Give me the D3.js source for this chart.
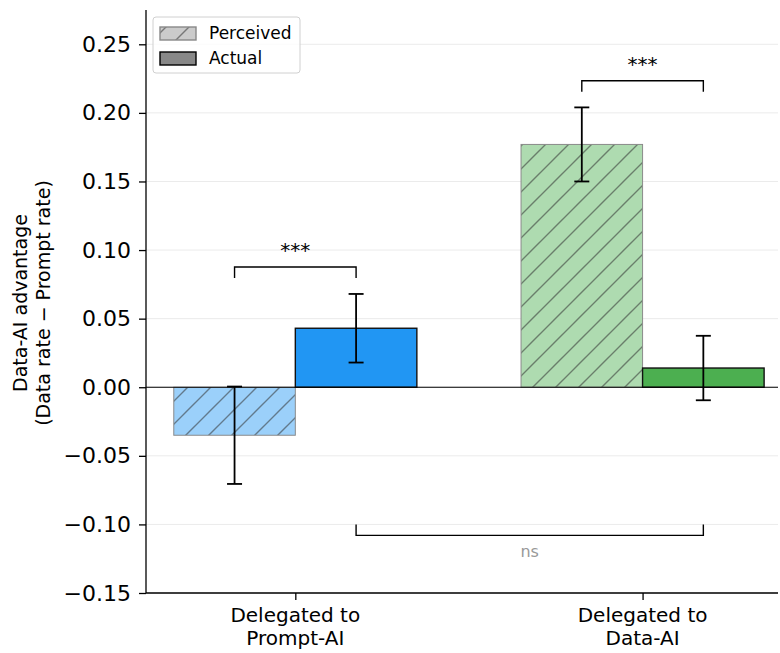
<!DOCTYPE html>
<html>
<head>
<meta charset="utf-8">
<script src="https://cdn.jsdelivr.net/npm/d3@7"></script>
<style>
  body { margin: 0; background: #fff; }
  text { font-family: "DejaVu Sans", sans-serif; }
</style>
</head>
<body>
<div id="chart"></div>
<script>
// 데이터
const groups = ["Delegated to\nPrompt-AI", "Delegated to\nData-AI"];
const perceived = [-0.035, 0.177];
const perceivedErr = [0.0355, 0.027];
const actual = [0.043, 0.014];
const actualErr = [0.025, 0.0235];
const yTicks = [-0.15, -0.10, -0.05, 0.00, 0.05, 0.10, 0.15, 0.20, 0.25];
const seriesNames = ["Perceived", "Actual"];
// 유의성 표시: a, b = [group, series]
const sigs = [
  { a: [0, 0], b: [0, 1], y: 0.0876, drop: -0.008, label: "***" },
  { a: [1, 0], b: [1, 1], y: 0.2234, drop: -0.008, label: "***" },
  { a: [0, 1], b: [1, 1], y: -0.108, drop: 0.008, label: "ns" }
];

// SVG 설정
var W = 780, H = 653;
var svg = d3.select("#chart").append("svg")
  .attr("width", W).attr("height", H);

var xScale = d3.scaleLinear().domain([-0.43, 1.39]).range([146, 778]);
var yScale = d3.scaleLinear().domain([-0.15, 0.275]).range([593, 10]);
var barW = 0.35;
var blue = "#2196F3", green = "#4CAF50";
var colors = [blue, green];

function lighten(c, a) {
  var r = d3.rgb(c);
  return d3.rgb(255 - (255 - r.r) * a, 255 - (255 - r.g) * a, 255 - (255 - r.b) * a).formatHex();
}
function barX(g, s) { return g + (s === 0 ? -barW / 2 : barW / 2); }

// 해치 패턴
var defs = svg.append("defs");
function hatch(id, bg) {
  var p = defs.append("pattern").attr("id", id)
    .attr("patternUnits", "userSpaceOnUse")
    .attr("width", 23).attr("height", 23);
  p.append("rect").attr("width", 23).attr("height", 23).attr("fill", bg);
  p.append("path").attr("d", "M-1,1 l2,-2 M0,23 l23,-23 M22,24 l2,-2")
    .attr("stroke", "#333").attr("stroke-opacity", 0.55).attr("stroke-width", 1.4);
}
hatch("hatch0", lighten(blue, 0.45));
hatch("hatch1", lighten(green, 0.45));
hatch("hatchLegend", "#cbcbcb");

// 그리드
svg.append("g").selectAll("line").data(yTicks).enter().append("line")
  .attr("x1", 146).attr("x2", 778)
  .attr("y1", d => yScale(d)).attr("y2", d => yScale(d))
  .attr("stroke", "#ebebeb").attr("stroke-width", 1);

// 막대
var bars = [];
groups.forEach(function(g, i) {
  bars.push({ g: i, s: 0, v: perceived[i], e: perceivedErr[i] });
  bars.push({ g: i, s: 1, v: actual[i], e: actualErr[i] });
});

svg.append("g").selectAll("rect").data(bars).enter().append("rect")
  .attr("x", d => xScale(barX(d.g, d.s) - barW / 2))
  .attr("width", d => xScale(barW) - xScale(0))
  .attr("y", d => yScale(Math.max(0, d.v)))
  .attr("height", d => Math.abs(yScale(d.v) - yScale(0)))
  .attr("fill", d => d.s === 0 ? "url(#hatch" + d.g + ")" : colors[d.g])
  .attr("stroke", d => d.s === 0 ? "#8a8a8a" : "#111")
  .attr("stroke-width", d => d.s === 0 ? 1 : 1.4);

// 0 기준선
svg.append("line")
  .attr("x1", 146).attr("x2", 778)
  .attr("y1", yScale(0)).attr("y2", yScale(0))
  .attr("stroke", "#000").attr("stroke-width", 1.2);

// 오차 막대
var eb = svg.append("g").attr("stroke", "#000").attr("stroke-width", 1.8);
bars.forEach(function(d) {
  var cx = xScale(barX(d.g, d.s));
  eb.append("line").attr("x1", cx).attr("x2", cx)
    .attr("y1", yScale(d.v + d.e)).attr("y2", yScale(d.v - d.e));
  [d.v + d.e, d.v - d.e].forEach(function(v) {
    eb.append("line").attr("x1", cx - 7.5).attr("x2", cx + 7.5)
      .attr("y1", yScale(v)).attr("y2", yScale(v));
  });
});

// 유의성 괄호
sigs.forEach(function(s) {
  var x1 = xScale(barX(s.a[0], s.a[1])), x2 = xScale(barX(s.b[0], s.b[1]));
  var y = yScale(s.y), y2 = yScale(s.y + s.drop);
  svg.append("path")
    .attr("d", "M" + x1 + "," + y2 + "V" + y + "H" + x2 + "V" + y2)
    .attr("fill", "none").attr("stroke", "#000").attr("stroke-width", 1.4);
  var ns = s.label === "ns";
  svg.append("text")
    .attr("x", (x1 + x2) / 2)
    .attr("y", ns ? y + 22 : y - 10)
    .attr("text-anchor", "middle")
    .attr("font-size", ns ? 16 : 20)
    .attr("fill", ns ? "#999" : "#000")
    .text(s.label);
});

// y축
var yAxis = d3.axisLeft(yScale).tickValues(yTicks)
  .tickFormat(d => d3.format(".2f")(d).replace("-", "\u2212"))
  .tickSize(7).tickPadding(8);
var gy = svg.append("g").attr("transform", "translate(146,0)").call(yAxis);
gy.select(".domain").attr("d", "M0,10V593").attr("stroke-width", 1.3);
gy.selectAll("text").attr("font-size", 22).attr("font-family", "DejaVu Sans").attr("fill", "#000");
gy.selectAll(".tick line").attr("stroke-width", 1.3);

// x축
var xAxis = d3.axisBottom(xScale).tickValues([0, 1]).tickFormat("").tickSize(7);
var gx = svg.append("g").attr("transform", "translate(0,593)").call(xAxis);
gx.select(".domain").attr("d", "M146,0H778").attr("stroke-width", 1.3);
gx.selectAll(".tick line").attr("stroke-width", 1.3);
groups.forEach(function(g, i) {
  var t = svg.append("text").attr("x", xScale(i)).attr("y", 622)
    .attr("text-anchor", "middle").attr("font-size", 20);
  g.split("\n").forEach(function(line, k) {
    t.append("tspan").attr("x", xScale(i)).attr("dy", k === 0 ? 0 : 23).text(line);
  });
});

// y축 제목
var yl = svg.append("text").attr("transform", "translate(27,303) rotate(-90)")
  .attr("text-anchor", "middle").attr("font-size", 19);
yl.append("tspan").attr("x", 0).attr("dy", 0).text("Data-AI advantage");
yl.append("tspan").attr("x", 0).attr("dy", 23).text("(Data rate \u2212 Prompt rate)");

// 범례
var lg = svg.append("g").attr("transform", "translate(153,17)");
lg.append("rect").attr("width", 147).attr("height", 56).attr("rx", 3)
  .attr("fill", "#fff").attr("fill-opacity", 0.8).attr("stroke", "#d0d0d0");
seriesNames.forEach(function(n, i) {
  lg.append("rect").attr("x", 7).attr("y", 10 + i * 25).attr("width", 36).attr("height", 13)
    .attr("fill", i === 0 ? "url(#hatchLegend)" : "#888")
    .attr("stroke", i === 0 ? "#888" : "#000").attr("stroke-width", 1.4);
  lg.append("text").attr("x", 56).attr("y", 22 + i * 25).attr("font-size", 17).text(n);
});
</script>
</body>
</html>
